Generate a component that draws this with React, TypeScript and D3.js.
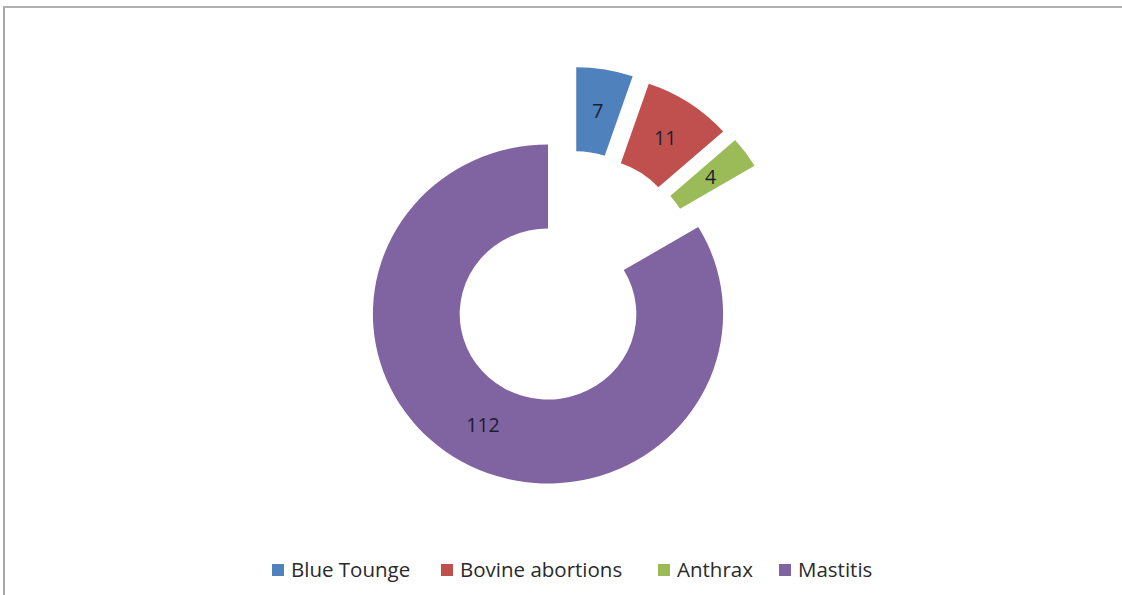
import React from "react";
import * as d3 from "d3";

const categories = ["Blue Tounge", "Bovine abortions", "Anthrax", "Mastitis"];
const values = [7, 11, 4, 112];
const exploded = [true, true, true, false];
const colors = ["#4F81BD", "#C0504D", "#9BBB59", "#8064A2"];

const W = 1122;
const H = 595;
const CX = 548;
const CY = 314;
const OUTER = 169.5;
const INNER = 85.5;
const XSTRETCH = 1.033;
const EXPLODE = 82;
const FONT = "'Open Sans', 'Liberation Sans', Arial, sans-serif";

export default function App() {
  const pie = d3
    .pie<number>()
    .value((d) => d)
    .sort(null)
    .startAngle(0)
    .endAngle(2 * Math.PI);
  const arcs = pie(values);
  const arc = d3.arc<d3.PieArcDatum<number>>().innerRadius(INNER).outerRadius(OUTER);

  const expArcs = arcs.filter((_, i) => exploded[i]);
  const groupMid =
    expArcs.length > 0
      ? (d3.min(expArcs, (a) => a.startAngle)! + d3.max(expArcs, (a) => a.endAngle)!) / 2
      : 0;

  const offsetOf = (a: d3.PieArcDatum<number>, i: number) => {
    if (!exploded[i]) return [0, 0];
    const mid = (a.startAngle + a.endAngle) / 2;
    const dir = 0.5 * mid + 0.5 * groupMid;
    return [EXPLODE * Math.sin(dir), -EXPLODE * Math.cos(dir)];
  };

  // legend layout
  const legendBaseline = 577;
  const legendX = [272, 441, 658, 779];

  return (
    <svg
      width={W}
      height={H}
      style={{ position: "absolute", left: 0, top: 0, background: "#fff" }}
      fontFamily={FONT}
    >
      <rect x={0} y={0} width={W} height={H} fill="#fff" />
      <line x1={3} y1={7} x2={W} y2={7} stroke="#b0b0b0" strokeWidth={2} />
      <line x1={4} y1={7} x2={4} y2={H} stroke="#a8a8a8" strokeWidth={2} />

      <g transform={`translate(${CX},${CY}) scale(${XSTRETCH},1)`}>
        {arcs.map((a, i) => {
          const [dx, dy] = offsetOf(a, i);
          return (
            <path
              key={categories[i]}
              d={arc(a) || ""}
              transform={`translate(${dx},${dy})`}
              fill={colors[i]}
            />
          );
        })}
      </g>
      {arcs.map((a, i) => {
        const [dx, dy] = offsetOf(a, i);
        const [lx, ly] = arc.centroid(a);
        return (
          <text
            key={"l" + categories[i]}
            x={CX + (lx + dx) * XSTRETCH}
            y={CY + ly + dy + 7}
            textAnchor="middle"
            fontSize={19.5}
            fill="#1c1c30"
          >
            {values[i]}
          </text>
        );
      })}

      {categories.map((c, i) => (
        <g key={"lg" + c} transform={`translate(${legendX[i]},${legendBaseline})`}>
          <rect x={0} y={-13} width={12} height={12} fill={colors[i]} />
          <text x={19} y={0} fontSize={20.5} fill="#2a2a2a">
            {c}
          </text>
        </g>
      ))}
    </svg>
  );
}
